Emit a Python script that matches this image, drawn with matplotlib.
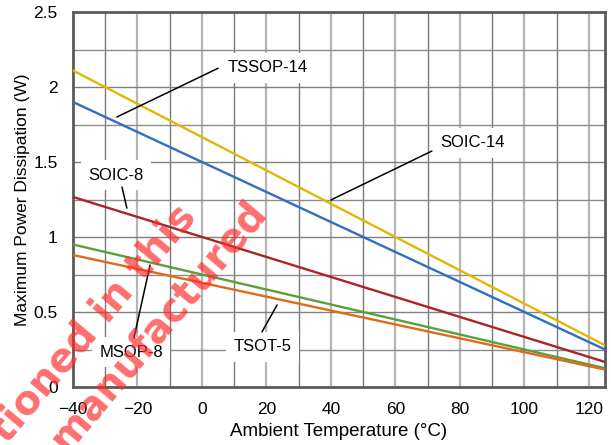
import matplotlib
matplotlib.use("Agg")
import matplotlib.pyplot as plt
from matplotlib.ticker import MultipleLocator

plt.rcParams['font.family'] = ['Liberation Sans', 'DejaVu Sans']

# Data (straight-line derating, endpoints)
temps = [-40, 125]
soic14 = [2.11, 0.278]
tssop14 = [1.90, 0.25]
soic8 = [1.267, 0.167]
msop8 = [0.95, 0.125]
tsot5 = [0.88, 0.116]

series_names = ["SOIC-14", "TSSOP-14", "SOIC-8", "MSOP-8", "TSOT-5"]
series_values = [soic14, tssop14, soic8, msop8, tsot5]
series_colors = ["#e3b505", "#2f6fc0", "#ab2329", "#5c9e3a", "#e0691e"]

x_ticks = [-40, -20, 0, 20, 40, 60, 80, 100, 120]
y_ticks = [0, 0.5, 1, 1.5, 2, 2.5]
y_tick_labels = ["0", "0.5", "1", "1.5", "2", "2.5"]

# label text position, leader start, leader end (on curve)
label_text = ["TSSOP-14", "SOIC-14", "SOIC-8", "MSOP-8", "TSOT-5"]
label_pos = [(20.5, 2.127), (84.0, 1.627), (-26.7, 1.413), (-22.0, 0.233), (18.9, 0.267)]
leader_start = [(5.0, 2.125), (71.3, 1.573), (-24.8, 1.333), (-21.1, 0.327), (18.6, 0.367)]
leader_end = [(-26.4, 1.80), (40.0, 1.247), (-23.3, 1.193), (-16.1, 0.813), (23.3, 0.547)]

fig = plt.figure(figsize=(6.11, 4.45), dpi=100)
ax = fig.add_axes([73/611, 1-387/445, (605-73)/611, (387-12)/445])

ax.set_xlim(-40, 125)
ax.set_ylim(0, 2.5)

# grid
ax.xaxis.set_major_locator(MultipleLocator(20))
ax.xaxis.set_minor_locator(MultipleLocator(10))
ax.yaxis.set_major_locator(MultipleLocator(0.5))
ax.yaxis.set_minor_locator(MultipleLocator(0.25))
ax.set_xticks(x_ticks)
ax.set_yticks(y_ticks)
ax.set_yticklabels(y_tick_labels)
ax.grid(which='major', axis='x', color='#b5b5b5', lw=1.6)
ax.grid(which='minor', axis='x', color='#7a7a7a', lw=1.0)
ax.grid(which='major', axis='y', color='#808080', lw=1.0)
ax.grid(which='minor', axis='y', color='#8c8c8c', lw=1.0)
ax.set_axisbelow(True)

ax.tick_params(which='both', length=0, labelsize=12.5, colors='black')
ax.tick_params(axis='x', pad=11)
ax.tick_params(axis='y', pad=11)

for s in ax.spines.values():
    s.set_color('#5a5a5a')
    s.set_linewidth(2)

for name, vals, col in zip(series_names, series_values, series_colors):
    ax.plot(temps, vals, color=col, lw=1.7, zorder=3, label=name)

for txt, pos, st, en in zip(label_text, label_pos, leader_start, leader_end):
    ax.text(pos[0], pos[1], txt, ha='center', va='center', fontsize=12, zorder=4,
            bbox=dict(boxstyle='square,pad=0.45', fc='white', ec='none'))
    ax.annotate('', xy=en, xytext=st,
                arrowprops=dict(arrowstyle='-', color='black', lw=1.1,
                                shrinkA=0, shrinkB=0), zorder=5)

ax.set_xlabel("Ambient Temperature (°C)", fontsize=13.5, labelpad=4)
ax.set_ylabel("Maximum Power Dissipation (W)", fontsize=12.5)
ax.yaxis.set_label_coords(-(73-30)/532, 0.5)

# watermark
wm_font = dict(family='DejaVu Sans', fontsize=28.5, fontweight='bold',
               color='#ff2a2a', alpha=0.68, zorder=10)
fig.text(197/611, 1-217/445, "tioned in this", rotation=50, rotation_mode='anchor',
         ha='right', va='baseline', **wm_font)
fig.text(268/611, 1-212/445, "manufactured", rotation=50, rotation_mode='anchor',
         ha='right', va='baseline', **wm_font)

fig.savefig("out.png", dpi=100)
